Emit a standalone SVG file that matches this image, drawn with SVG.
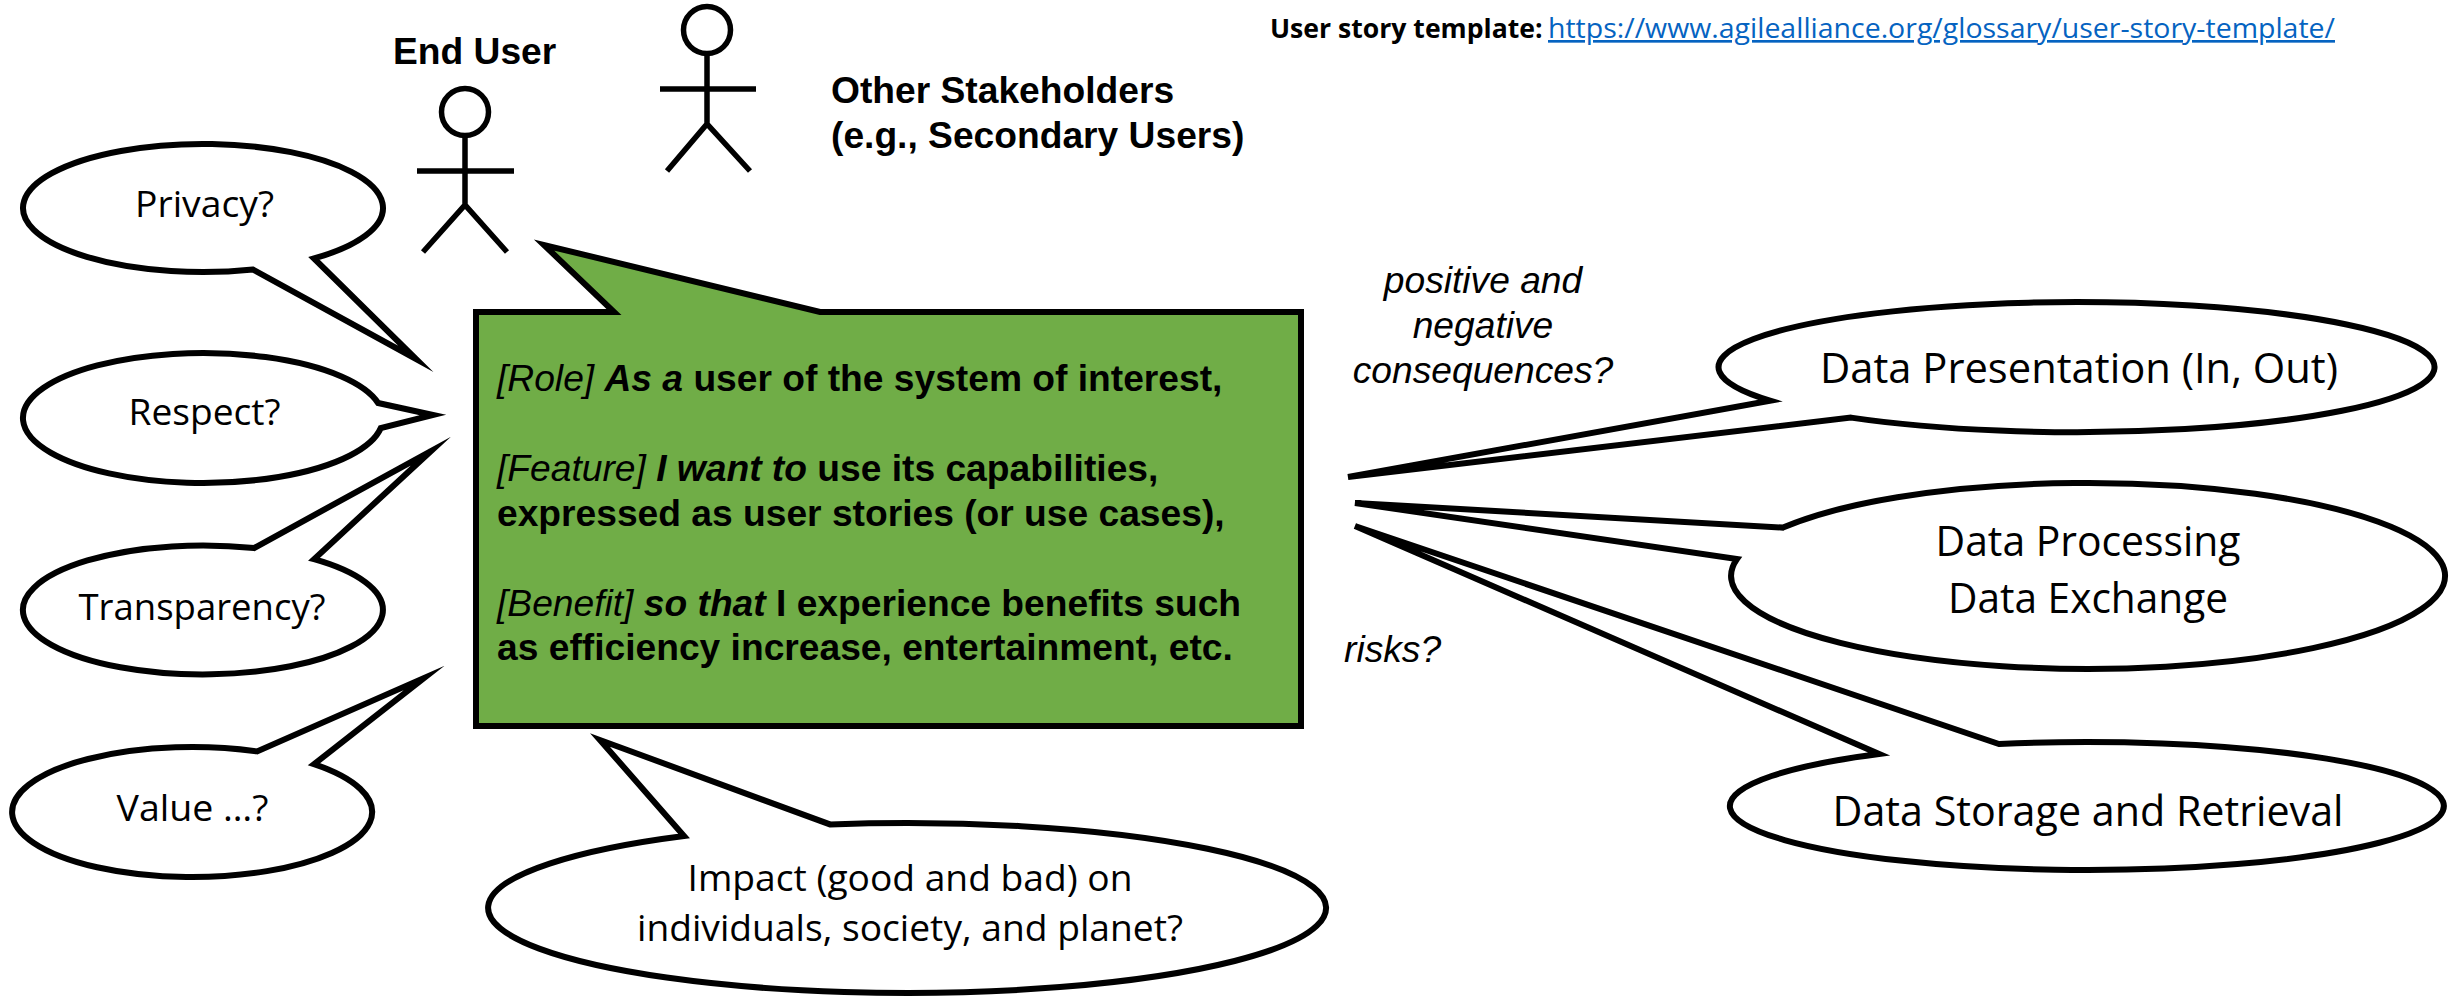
<svg xmlns="http://www.w3.org/2000/svg" width="2456" height="996" viewBox="0 0 2456 996">
<style>
.o{fill:#fff;stroke:#000;stroke-width:6;stroke-miterlimit:12}
.l{fill:none;stroke:#000;stroke-width:5.5}
.c{font-family:"Open Sans","Noto Sans",sans-serif;font-size:37px;fill:#000;text-anchor:middle}
.d{font-size:41.5px}
.a{font-family:"Liberation Sans",Arial,sans-serif;fill:#000}
.b{font-size:37.2px;font-weight:700}
.i{font-size:37.2px;font-style:italic}
.m{text-anchor:middle}
.bi{font-weight:700;font-style:italic}
.n{font-style:italic;font-weight:400}
.t{font-family:"Open Sans","Noto Sans",sans-serif;font-size:26.6px}
</style>
<rect width="2456" height="996" fill="#fff"/>
<g id="end-user">
<circle class="l" cx="465" cy="112" r="23.5"/>
<path class="l" d="M465 135V205M417 171H514M423 252L465 205L507 252"/>
<text class="a b" x="393" y="64">End User</text>
</g>
<g id="other-stakeholders">
<circle class="l" cx="707" cy="30" r="23.5"/>
<path class="l" d="M707 53V124M660 89H756M667 171L707 124L750 171"/>
<text class="a b" x="831" y="103">Other Stakeholders</text>
<text class="a b" x="831" y="148">(e.g., Secondary Users)</text>
</g>
<g id="template-note">
<text class="t" x="1270" y="38" font-weight="700">User story template:</text>
<text class="t" x="1548" y="38" fill="#0563C1" text-decoration="underline" textLength="787" lengthAdjust="spacingAndGlyphs">https://www.agilealliance.org/glossary/user-story-template/</text>
</g>
<g id="privacy">
<path class="o" d="M253 269.5A180 64 0 1 1 314 258.4L416 359Z"/>
<text class="c" x="204.5" y="217" textLength="139" lengthAdjust="spacingAndGlyphs">Privacy?</text>
</g>
<g id="respect">
<path class="o" d="M380.8 428A180 65 0 1 1 378.1 403L433 415Z"/>
<text class="c" x="204.5" y="425" textLength="152" lengthAdjust="spacingAndGlyphs">Respect?</text>
</g>
<g id="transparency">
<path class="o" d="M314 559.2A180 64.5 0 1 1 254 548.1L431 451Z"/>
<text class="c" x="202" y="620" textLength="247" lengthAdjust="spacingAndGlyphs">Transparency?</text>
</g>
<g id="value">
<path class="o" d="M314 764.2A180 65 0 1 1 257 751.4L424 678Z"/>
<text class="c" x="192.5" y="821" textLength="152" lengthAdjust="spacingAndGlyphs">Value …?</text>
</g>
<g id="impact">
<path class="o" d="M684 836A419 85 0 1 0 830 824.4L600 740Z"/>
<text class="c" x="910" y="891" textLength="445" lengthAdjust="spacingAndGlyphs">Impact (good and bad) on</text>
<text class="c" x="910" y="941" textLength="546" lengthAdjust="spacingAndGlyphs">individuals, society, and planet?</text>
</g>
<g id="user-story">
<path d="M476 312H614L544 245L820 312H1301V726H476Z" fill="#70AD47" stroke="#000" stroke-width="6" stroke-miterlimit="12"/>
<text class="a b" x="497" y="391"><tspan class="n">[Role] </tspan><tspan class="bi">As a</tspan> user of the system of interest,</text>
<text class="a b" x="497" y="481"><tspan class="n">[Feature] </tspan><tspan class="bi">I want to</tspan> use its capabilities,</text>
<text class="a b" x="497" y="526">expressed as user stories (or use cases),</text>
<text class="a b" x="497" y="616"><tspan class="n">[Benefit] </tspan><tspan class="bi">so that</tspan> I experience benefits such</text>
<text class="a b" x="497" y="660">as efficiency increase, entertainment, etc.</text>
</g>
<g id="data-presentation">
<path class="o" d="M1770 400.7A358 65 0 1 1 1851 417.6L1348 477Z"/>
<text class="c d" x="2079" y="383" textLength="518" lengthAdjust="spacingAndGlyphs">Data Presentation (In, Out)</text>
</g>
<g id="data-processing">
<path class="o" d="M1737 559A357 93 0 1 0 1783 527.6L1355 503Z"/>
<text class="c d" x="2088" y="556" textLength="305" lengthAdjust="spacingAndGlyphs">Data Processing</text>
<text class="c d" x="2088" y="613" textLength="280" lengthAdjust="spacingAndGlyphs">Data Exchange</text>
</g>
<g id="data-storage">
<path class="o" d="M1879 754A357 64 0 1 0 1999 744L1355 526Z"/>
<text class="c d" x="2088" y="826" textLength="511" lengthAdjust="spacingAndGlyphs">Data Storage and Retrieval</text>
</g>
<g id="labels">
<text class="a i m" x="1483" y="293">positive and</text>
<text class="a i m" x="1483" y="338">negative</text>
<text class="a i m" x="1483" y="383">consequences?</text>
<text class="a i" x="1344" y="662">risks?</text>
</g>
<g id="connectors"/>
</svg>
